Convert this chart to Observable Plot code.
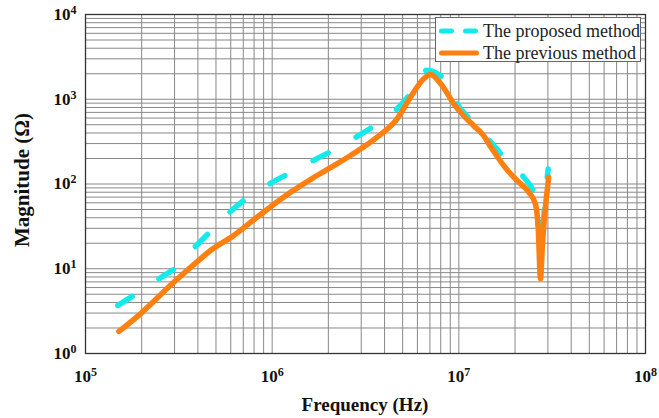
<!DOCTYPE html>
<html>
<head>
<meta charset="utf-8">
<script src="https://cdn.jsdelivr.net/npm/d3@7"></script>
<script src="https://cdn.jsdelivr.net/npm/@observablehq/plot@0.6"></script>
<style>
  body { margin: 0; background: #fff; }
  #chart { position: relative; width: 659px; height: 418px; font-family: "Liberation Serif", "Times New Roman", serif; }
  .lbl { position: absolute; font-weight: bold; color: #111; white-space: nowrap; }
  #legend { position: absolute; left: 435px; top: 17px; width: 206px; height: 45px; border: 1px solid #666; background: #fff; box-sizing: border-box; }
  #legend .row { position: absolute; left: 0; height: 22px; width: 100%; }
  #legend svg { position: absolute; left: 0; top: 0; }
  #legend span { position: absolute; left: 47px; top: 0; font-size: 18px; line-height: 22px; color: #222; white-space: nowrap; }
</style>
</head>
<body>
<div id="chart"></div>
<script>
// ---- data ----
const seriesNames = ["The proposed method", "The previous method"];
const seriesColors = ["#14eaea", "#ff8010"];

// proposed method (cyan dashed)
const proposedFreq = [1.49e5, 1.89e5, 2.5e5, 3.1e5, 3.88e5, 4.73e5, 5.98e5, 7.44e5, 9.8e5, 1.27e6,
  1.69e6, 2.19e6, 2.91e6, 3.65e6, 4.67e6, 5.63e6, 6.75e6, 8.31e6, 9.72e6, 1.155e7,
  1.447e7, 1.741e7, 2.212e7, 2.575e7, 2.67e7, 2.74e7, 2.81e7, 2.92e7, 3.01e7];
const proposedMag = [3.69, 5.15, 7.73, 10.6, 18.3, 28.3, 47.4, 69.9, 102, 138,
  193, 260, 374, 513, 772, 1245, 2200, 1743, 898, 572,
  332, 207, 122.6, 69.9, 35, 9, 25, 80, 150];

// previous method (orange solid)
const previousFreq = [1.51e5, 1.97e5, 2.91e5, 4.13e5, 4.67e5, 6.23e5, 8.31e5, 1.15e6, 1.74e6, 2.63e6,
  3.65e6, 4.67e6, 5.51e6, 6.49e6, 7.05e6, 7.98e6, 8.48e6, 9.36e6, 1.059e7, 1.198e7,
  1.355e7, 1.477e7, 1.611e7, 1.72e7, 2.05e7, 2.37e7, 2.57e7, 2.66e7, 2.74e7, 2.8e7,
  2.91e7, 3.03e7];
const previousMag = [1.82, 2.94, 6.64, 13.1, 16.4, 24.7, 40.6, 69.9, 126, 217,
  357, 588, 1057, 1743, 1959, 1530, 1269, 891, 643, 490,
  374, 278, 210, 170, 110, 80, 58.4, 30.9, 7.6, 18,
  53, 120];

const xTicks = [1e5, 1e6, 1e7, 1e8];
const yTicks = [1, 10, 100, 1000, 10000];
const xLabel = "Frequency (Hz)";
const yLabel = "Magnitude (\u03A9)";

// ---- build ----
const proposed = proposedFreq.map((f, i) => ({f, m: proposedMag[i]}));
const previous = previousFreq.map((f, i) => ({f, m: previousMag[i]}));
const xGrid = d3.scaleLog().domain([1e5, 1e8]).ticks();
const yGrid = d3.scaleLog().domain([1, 1e4]).ticks();
const expFmt = d => String(Math.round(Math.log10(d)));

const svg = Plot.plot({
  width: 659, height: 418,
  marginLeft: 85, marginRight: 14, marginTop: 14, marginBottom: 65,
  style: {fontFamily: "'Liberation Serif', 'Times New Roman', serif", background: "#fff", color: "#111", overflow: "visible"},
  x: {type: "log", domain: [1e5, 1e8]},
  y: {type: "log", domain: [1, 1e4]},
  marks: [
    Plot.gridX(xGrid, {stroke: "#888", strokeOpacity: 1, strokeWidth: 1}),
    Plot.gridY(yGrid, {stroke: "#888", strokeOpacity: 1, strokeWidth: 1}),
    Plot.frame({stroke: "#333", strokeWidth: 1.3}),
    Plot.axisX(xTicks, {tickSize: 0, tickPadding: 16, tickFormat: expFmt, fontSize: 17, fontWeight: "bold", label: null}),
    Plot.axisY(yTicks, {tickSize: 0, tickPadding: 9, tickFormat: expFmt, fontSize: 17, fontWeight: "bold", label: null}),
    Plot.line(proposed, {x: "f", y: "m", stroke: seriesColors[0], strokeWidth: 5.5, curve: "monotone-x",
      strokeDasharray: "17,32", strokeLinecap: "round", strokeLinejoin: "round"}),
    Plot.line(previous, {x: "f", y: "m", stroke: seriesColors[1], strokeWidth: 5.5, curve: "monotone-x",
      strokeLinecap: "round", strokeLinejoin: "round"})
  ]
});

// superscript exponents on tick labels: 10^n
d3.select(svg).selectAll('g[aria-label="x-axis tick label"] text, g[aria-label="y-axis tick label"] text').each(function () {
  const t = d3.select(this);
  const e = t.text();
  t.text("10");
  t.append("tspan").attr("dy", "-0.5em").attr("font-size", "12px").text(e);
});

const chart = document.getElementById("chart");
chart.appendChild(svg);

// axis titles
const xl = document.createElement("div");
xl.className = "lbl"; xl.textContent = xLabel;
xl.style.fontSize = "19px";
xl.style.left = "365px"; xl.style.top = "394px"; xl.style.transform = "translateX(-50%)";
chart.appendChild(xl);

const yl = document.createElement("div");
yl.className = "lbl"; yl.textContent = yLabel;
yl.style.fontSize = "21px";
yl.style.left = "22px"; yl.style.top = "180px"; yl.style.transform = "translate(-50%,-50%) rotate(-90deg)";
chart.appendChild(yl);

// legend
const legend = document.createElement("div");
legend.id = "legend";
seriesNames.forEach((name, i) => {
  const row = document.createElement("div");
  row.className = "row";
  row.style.top = (i === 0 ? 2 : 24) + "px";
  const dash = i === 0 ? 'stroke-dasharray="10,14"' : "";
  const x2 = i === 0 ? 39.5 : 40.5;
  row.innerHTML = `<svg width="46" height="22"><line x1="5.5" x2="${x2}" y1="11" y2="11" stroke="${seriesColors[i]}" stroke-width="5" stroke-linecap="round" ${dash}/></svg><span>${name}</span>`;
  legend.appendChild(row);
});
chart.appendChild(legend);
</script>
</body>
</html>
